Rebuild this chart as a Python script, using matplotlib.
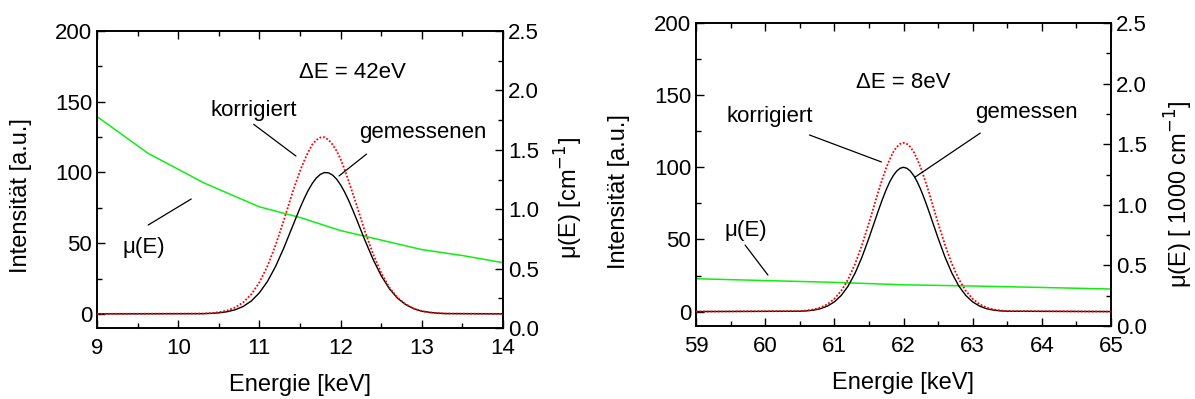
import numpy as np
import matplotlib.pyplot as plt
from matplotlib.ticker import MultipleLocator

plt.rcParams["font.family"] = ["Liberation Sans", "DejaVu Sans"]

# -------------------------------------------------------
# Daten: linkes Panel (9-14 keV)
# -------------------------------------------------------
E_links = [9.0, 10.3, 10.4, 10.5, 10.6, 10.7, 10.8, 10.9, 11.0, 11.1, 11.2,
           11.3, 11.4, 11.45, 11.5, 11.55, 11.6, 11.65, 11.7, 11.75, 11.8,
           11.85, 11.9, 11.95, 12.0, 12.05, 12.1, 12.15, 12.2, 12.3,
           12.4, 12.5, 12.6, 12.7, 12.8, 12.9, 13.0, 13.1, 13.2, 13.3, 14.0]
gemessen_links = [0.0, 0.14, 0.33, 0.72, 1.47, 2.86, 5.24, 9.08, 14.9, 23.0,
                  33.6, 46.5, 60.7, 67.8, 74.8, 81.3, 87.2, 92.1, 96.0, 98.6,
                  99.9, 99.7, 98.2, 95.3, 91.2, 86.1, 80.1, 73.4, 66.4, 52.0,
                  38.5, 27.0, 17.8, 11.1, 6.6, 3.7, 1.9, 1.0, 0.45, 0.2, 0.0]
korrigiert_links = [0.0, 0.23, 0.54, 1.15, 2.32, 4.46, 8.07, 13.8, 22.3, 33.8,
                    48.7, 66.0, 84.4, 92.9, 101.0, 108.1, 114.2, 119.7, 122.9,
                    124.7, 124.9, 123.1, 119.8, 115.3, 109.4, 102.0, 93.7,
                    85.1, 76.4, 58.2, 42.4, 28.9, 18.7, 11.5, 6.8, 3.8, 1.9,
                    1.0, 0.45, 0.2, 0.0]
E_mu_links = [9.0, 9.63, 10.32, 11.0, 11.5, 12.0, 12.5, 13.0, 13.5, 14.0]
mu_links = [1.78, 1.47, 1.22, 1.02, 0.93, 0.82, 0.74, 0.66, 0.61, 0.55]

# -------------------------------------------------------
# Daten: rechtes Panel (59-65 keV)
# -------------------------------------------------------
E_rechts = [59.0, 60.5, 60.6, 60.7, 60.8, 60.9, 61.0, 61.1, 61.2, 61.3, 61.4,
            61.5, 61.6, 61.65, 61.7, 61.75, 61.8, 61.85, 61.9, 61.95, 62.0,
            62.05, 62.1, 62.15, 62.2, 62.25, 62.3, 62.35, 62.4, 62.5,
            62.6, 62.7, 62.8, 62.9, 63.0, 63.1, 63.2, 63.3, 63.4, 63.5, 65.0]
gemessen_rechts = [0.0, 0.23, 0.5, 1.0, 2.0, 3.8, 6.7, 11.2, 17.7, 26.6, 37.8,
                   50.9, 64.9, 71.8, 78.4, 84.5, 89.8, 94.1, 97.3, 99.3, 100.0,
                   99.3, 97.3, 94.1, 89.8, 84.5, 78.4, 71.8, 64.9, 50.9,
                   37.8, 26.6, 17.7, 11.2, 6.7, 3.8, 2.0, 1.0, 0.5, 0.23, 0.0]
korrigiert_rechts = [0.0, 0.35, 0.74, 1.5, 2.8, 5.1, 8.8, 14.4, 22.4, 33.0,
                     46.2, 61.3, 77.4, 85.3, 92.7, 99.6, 105.5, 110.4, 114.0,
                     116.2, 117.0, 116.2, 114.0, 110.4, 105.5, 99.6, 92.7,
                     85.3, 77.4, 61.3, 46.2, 33.0, 22.4, 14.4, 8.8, 5.1, 2.8,
                     1.5, 0.74, 0.35, 0.0]
E_mu_rechts = [59.0, 60.0, 61.0, 62.0, 63.0, 64.0, 65.0]
mu_rechts = [0.39, 0.375, 0.36, 0.34, 0.33, 0.318, 0.305]

W, H = 1195, 399
fig = plt.figure(figsize=(W / 100, H / 100), dpi=100)

TICK_FS = 16
LABEL_FS = 17
ANN_FS = 16


def panel(rect, E, gem, korr, E_mu, mu, xlim, ylabel_r, pos_l, pos_r):
    ax = fig.add_axes(rect)
    ax2 = ax.twinx()
    ax.plot(E, gem, color="black", lw=1.0, zorder=3)
    ax.plot(E, korr, color="red", lw=1.3, ls=(0, (1, 1)), zorder=3)
    ax2.plot(E_mu, mu, color="#10ee10", lw=1.1)
    ax.set_zorder(2)
    ax.patch.set_visible(False)

    ax.set_xlim(*xlim)
    ax.set_ylim(-10, 200)
    ax2.set_ylim(0, 2.5)
    ax.xaxis.set_major_locator(MultipleLocator(1))
    ax.xaxis.set_minor_locator(MultipleLocator(0.5))
    ax.yaxis.set_major_locator(MultipleLocator(50))
    ax.yaxis.set_minor_locator(MultipleLocator(25))
    ax2.yaxis.set_major_locator(MultipleLocator(0.5))
    ax2.yaxis.set_minor_locator(MultipleLocator(0.25))
    ax2.yaxis.set_major_formatter(plt.FormatStrFormatter("%.1f"))

    ax.tick_params(which="both", direction="in", top=True, labelsize=TICK_FS,
                   width=1)
    ax.tick_params(which="major", length=6)
    ax.tick_params(which="minor", length=3.5)
    ax.tick_params(axis="x", pad=7)
    ax2.tick_params(which="both", direction="in", labelsize=TICK_FS, width=1)
    ax2.tick_params(which="major", length=6)
    ax2.tick_params(which="minor", length=3.5)

    for a in (ax, ax2):
        for s in a.spines.values():
            s.set_linewidth(1.2)

    ax.set_xlabel("Energie [keV]", fontsize=LABEL_FS, labelpad=11)
    ax.set_ylabel("Intensität [a.u.]", fontsize=LABEL_FS)
    ax.yaxis.set_label_coords(*pos_l)
    ax2.set_ylabel(ylabel_r, fontsize=LABEL_FS)
    ax2.yaxis.set_label_coords(*pos_r)
    return ax


def note(ax, text, pos, start, end):
    ax.text(pos[0], pos[1], text, fontsize=ANN_FS, ha="center", va="center")
    ax.annotate("", xy=end, xytext=start,
                arrowprops=dict(arrowstyle="-", color="black", lw=0.9,
                                shrinkA=0, shrinkB=0))


ax_l = panel([97 / W, (H - 328) / H, 406 / W, 297 / H],
             E_links, gemessen_links, korrigiert_links, E_mu_links, mu_links,
             (9, 14), r"μ(E) [cm$^{-1}$]", (-0.16, 0.445), (1.123, 0.438))
ax_l.text(12.15, 171, "ΔE = 42eV", fontsize=ANN_FS, ha="center", va="center")
note(ax_l, "korrigiert", (10.93, 144), (10.93, 134), (11.45, 111.6))
note(ax_l, "gemessenen", (13.01, 128), (12.32, 113), (11.98, 97.5))
note(ax_l, "μ(E)", (9.58, 47), (9.63, 62.8), (10.16, 81.2))

ax_r = panel([696 / W, (H - 326) / H, 415 / W, 303 / H],
             E_rechts, gemessen_rechts, korrigiert_rechts, E_mu_rechts,
             mu_rechts, (59, 65), r"μ(E) [ 1000 cm$^{-1}$]",
             (-0.159, 0.445), (1.125, 0.436))
ax_r.text(61.99, 159, "ΔE = 8eV", fontsize=ANN_FS, ha="center", va="center")
note(ax_r, "korrigiert", (60.07, 135.5), (60.64, 122.4), (61.68, 103.7))
note(ax_r, "gemessen", (63.78, 138.3), (63.11, 123.7), (62.17, 93.3))
note(ax_r, "μ(E)", (59.72, 56.5), (59.71, 46.1), (60.04, 25.3))

fig.savefig("out.png", dpi=100)
